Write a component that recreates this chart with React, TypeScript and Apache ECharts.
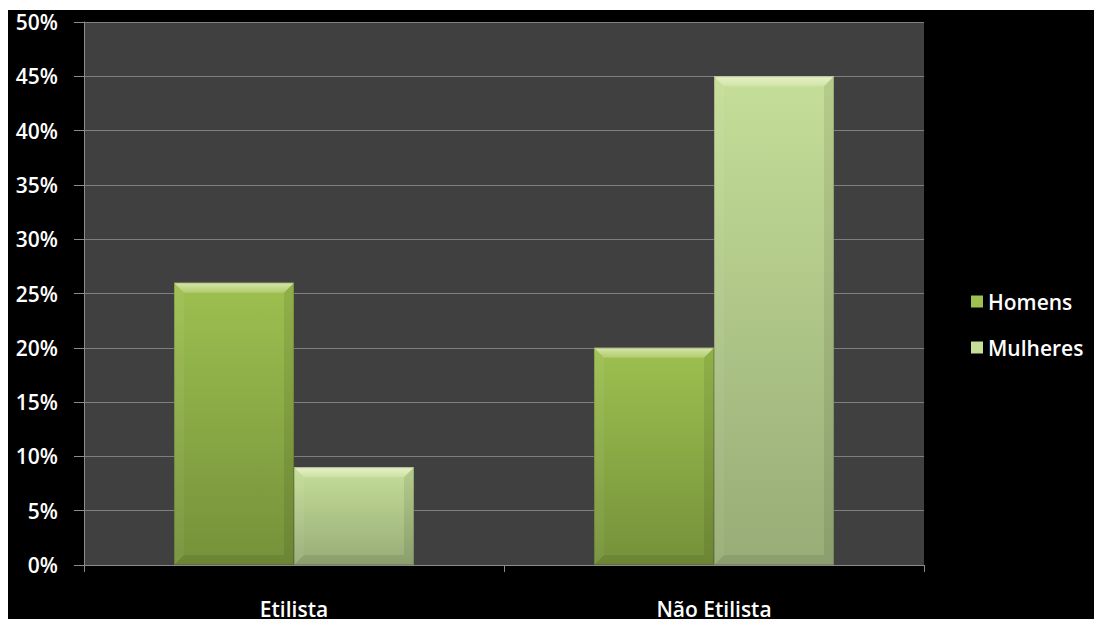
import React, { useEffect, useRef } from "react";
import * as echarts from "echarts";

const categories = ["Etilista", "Não Etilista"];
const homens = [26, 20];
const mulheres = [9, 45];
const yTicks = [0, 5, 10, 15, 20, 25, 30, 35, 40, 45, 50];

const seriesDefs = [
  { name: "Homens", data: homens, top: "#9dc050", bottom: "#75913a", slot: -1 },
  { name: "Mulheres", data: mulheres, top: "#c5de98", bottom: "#97ac77", slot: 0 },
];

export default function App() {
  const ref = useRef<HTMLDivElement>(null);
  useEffect(() => {
    const chart = echarts.init(ref.current!, null, { renderer: "svg" });
    const font = "'Open Sans', 'Noto Sans', sans-serif";
    const grad = (stops: [number, string][]) =>
      new echarts.graphic.LinearGradient(
        0, 0, 0, 1,
        stops.map(([offset, color]) => ({ offset, color }))
      );
    const makeSeries = (def: (typeof seriesDefs)[number]) => ({
      name: def.name,
      type: "custom",
      data: def.data.map((v, i) => [i, v]),
      encode: { x: 0, y: 1 },
      itemStyle: { color: def.top },
      renderItem: (params: any, api: any) => {
        const idx = api.value(0);
        const val = api.value(1);
        const bandW = api.size([1, 0])[0];
        const barW = bandW * (120 / 420);
        const base = api.coord([idx, 0]);
        const topPt = api.coord([idx, val]);
        const x = base[0] + def.slot * barW;
        const y = topPt[1];
        const w = barW;
        const h = base[1] - topPt[1];
        const b = Math.min(10, h / 2);
        return {
          type: "group",
          children: [
            {
              type: "rect",
              shape: { x, y, width: w, height: h },
              style: { fill: grad([[0, def.top], [1, def.bottom]]) },
            },
            {
              type: "polygon",
              shape: { points: [[x, y], [x + w, y], [x + w - b, y + b], [x + b, y + b]] },
              style: { fill: grad([[0, "rgba(255,255,230,0.6)"], [1, "rgba(255,255,230,0.2)"]]) },
            },
            {
              type: "polygon",
              shape: { points: [[x, y], [x + b, y + b], [x + b, y + h - b], [x, y + h]] },
              style: { fill: "rgba(255,255,255,0.05)" },
            },
            {
              type: "polygon",
              shape: { points: [[x + w, y], [x + w, y + h], [x + w - b, y + h - b], [x + w - b, y + b]] },
              style: { fill: "rgba(0,0,0,0.08)" },
            },
            {
              type: "polygon",
              shape: { points: [[x, y + h], [x + b, y + h - b], [x + w - b, y + h - b], [x + w, y + h]] },
              style: { fill: "rgba(0,0,0,0.08)" },
            },
            {
              type: "rect",
              shape: { x: x + 0.5, y: y + 0.5, width: w - 1, height: h - 1 },
              style: { fill: "none", stroke: "rgba(0,0,0,0.15)", lineWidth: 1 },
            },
          ],
        };
      },
    });
    chart.setOption({
      animation: false,
      backgroundColor: "#000000",
      textStyle: { fontFamily: font },
      grid: { left: 76, top: 12, width: 840, height: 545, backgroundColor: "#404040", show: true, borderWidth: 0 },
      legend: {
        orient: "vertical",
        left: 958,
        top: 276,
        itemWidth: 12,
        itemHeight: 12,
        itemGap: 25,
        icon: "rect",
        textStyle: { color: "#ffffff", fontSize: 21, fontWeight: 600, fontFamily: font },
        data: ["Homens", "Mulheres"],
      },
      xAxis: {
        type: "category",
        data: categories,
        axisLine: { lineStyle: { color: "#8c8c8c", width: 1 } },
        axisTick: { show: true, length: 7, lineStyle: { color: "#8c8c8c" } },
        axisLabel: { color: "#ffffff", fontSize: 21, fontWeight: 600, margin: 33, fontFamily: font },
      },
      yAxis: {
        type: "value",
        min: 0,
        max: 50,
        interval: 5,
        axisLine: { show: true, lineStyle: { color: "#8c8c8c", width: 1 } },
        axisTick: { show: true, length: 10, lineStyle: { color: "#8c8c8c" } },
        splitLine: { lineStyle: { color: "#7f7f7f", width: 1 } },
        axisLabel: {
          color: "#ffffff",
          fontSize: 21,
          fontWeight: 600,
          margin: 26,
          fontFamily: font,
          formatter: (v: number) => (yTicks.includes(v) ? v + "%" : ""),
        },
      },
      series: seriesDefs.map(makeSeries),
    });
    return () => chart.dispose();
  }, []);
  return (
    <div
      ref={ref}
      style={{ position: "fixed", left: 8, top: 10, width: 1086, height: 609 }}
    />
  );
}
